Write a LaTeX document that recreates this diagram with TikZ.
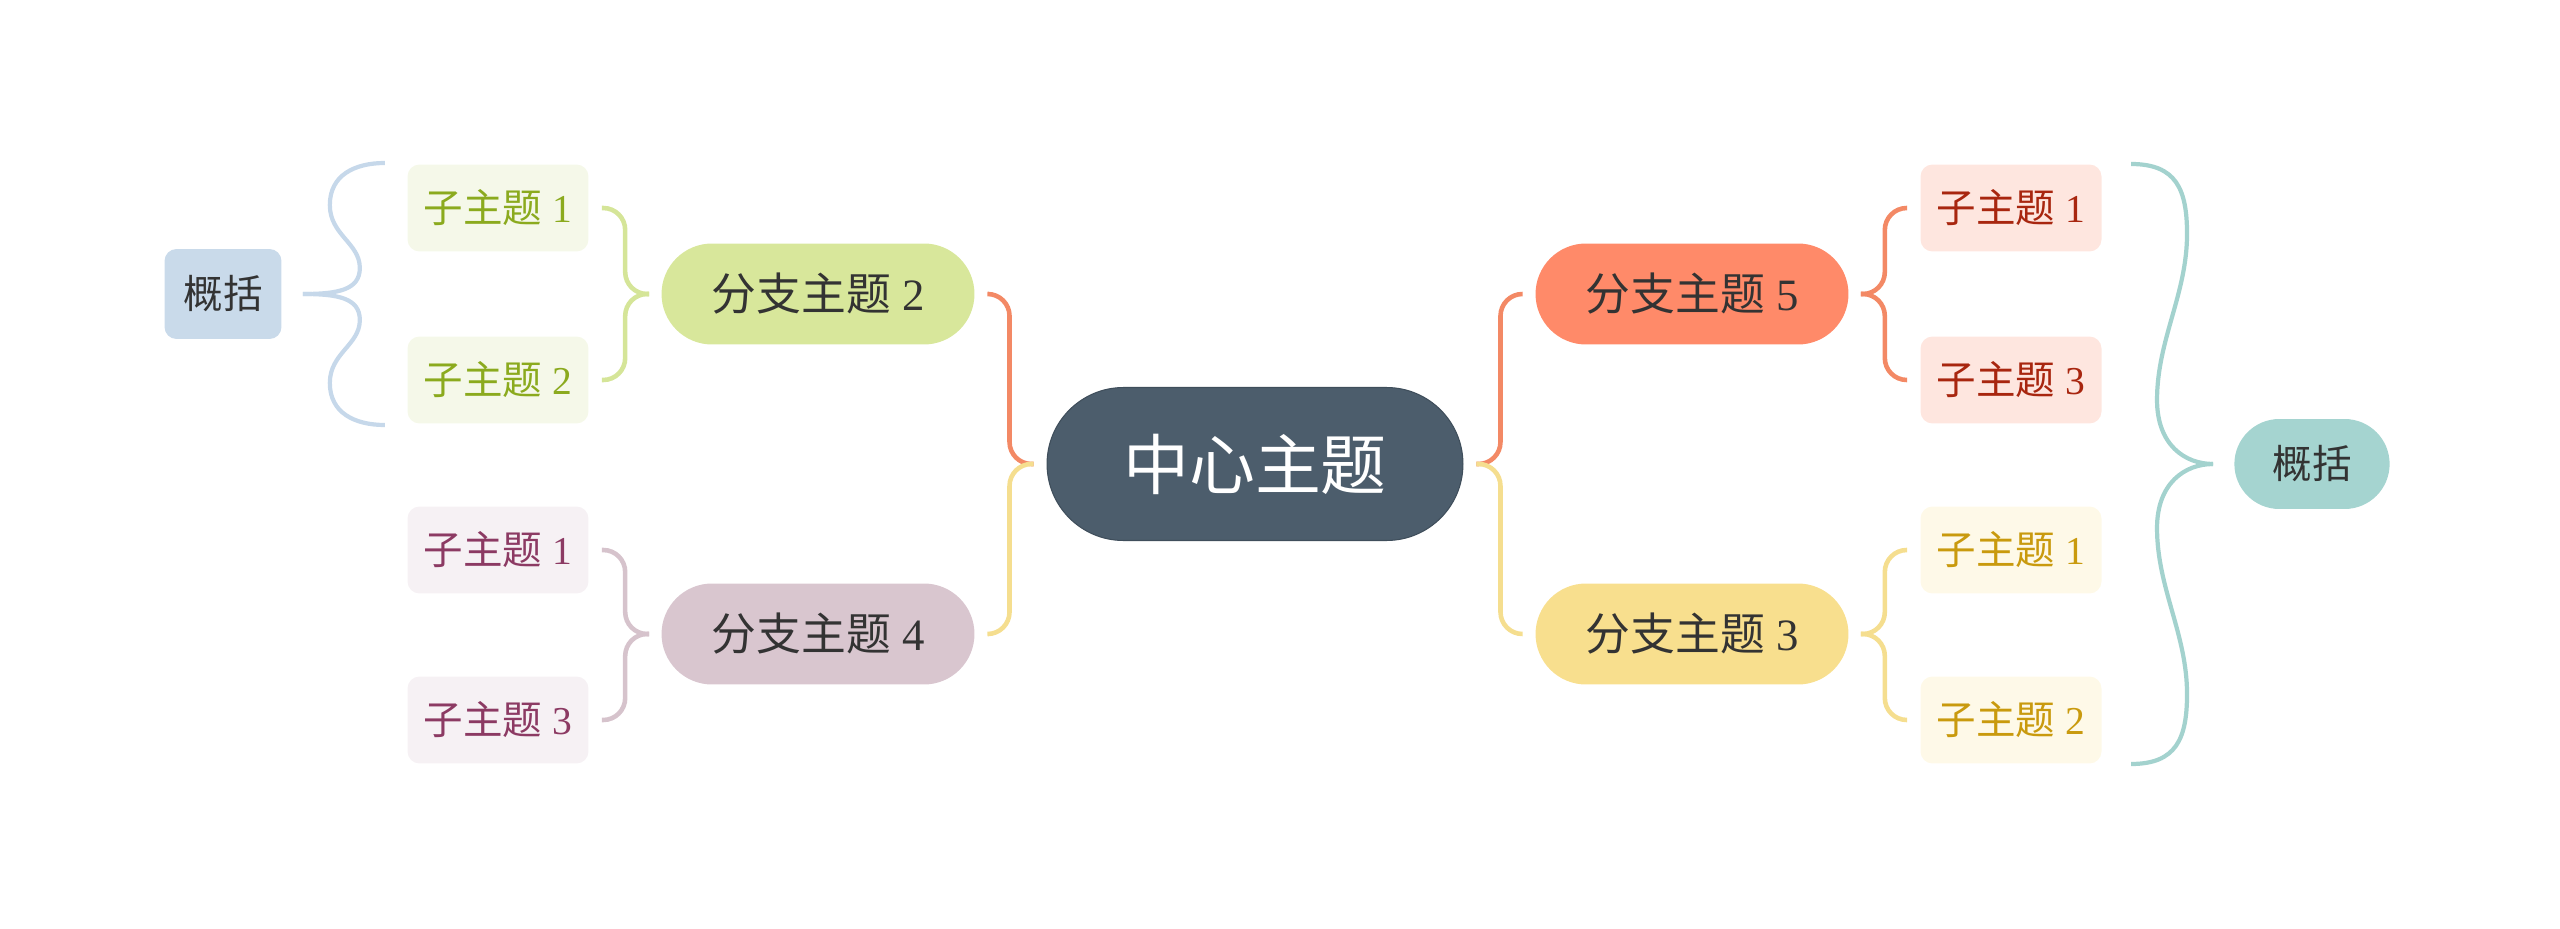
\documentclass[tikz,border=0pt]{standalone}
\usepackage{fontspec}
\setmainfont{Liberation Serif}
\newfontfamily\cjk{Noto Sans CJK SC}
\usetikzlibrary{shapes.misc,calc}

\definecolor{hubfill}{HTML}{4C5D6C}
\definecolor{hubline}{HTML}{3F4E5B}
\definecolor{ink}{HTML}{333333}
\definecolor{greenfill}{HTML}{D8E79B}
\definecolor{greenleaf}{HTML}{F5F8E9}
\definecolor{greentext}{HTML}{8BAA1E}
\definecolor{greenln}{HTML}{D5E598}
\definecolor{mauvefill}{HTML}{D9C6CF}
\definecolor{mauveleaf}{HTML}{F6F1F4}
\definecolor{mauvetext}{HTML}{8C3A63}
\definecolor{mauveln}{HTML}{D6C3CC}
\definecolor{coralfill}{HTML}{FF8A69}
\definecolor{coralleaf}{HTML}{FEE6DF}
\definecolor{coraltext}{HTML}{A8260F}
\definecolor{coralln}{HTML}{F38965}
\definecolor{sandfill}{HTML}{F8DF8E}
\definecolor{sandleaf}{HTML}{FEF9E8}
\definecolor{sandtext}{HTML}{C99A0E}
\definecolor{sandln}{HTML}{F5DE8F}
\definecolor{skyfill}{HTML}{C9DAEA}
\definecolor{skyln}{HTML}{C6D8EA}
\definecolor{tealfill}{HTML}{A5D4D0}
\definecolor{tealln}{HTML}{A3D2CE}

\begin{document}
\begin{tikzpicture}[x = 0.02cm, y = -0.02cm,
    hub/.style = {rounded rectangle, fill = hubfill, draw = hubline, line width = 0.6pt,
      minimum width = 8.32cm, minimum height = 3.06cm, inner sep = 0pt,
      text = white, font = \fontsize{37.5}{40}\selectfont},
    branch/.style = {rounded rectangle, minimum width = 6.26cm, minimum height = 2.02cm,
      inner sep = 0pt, text = ink, font = \fontsize{25.5}{28}\selectfont},
    leaf/.style = {rectangle, rounded corners = 0.24cm, minimum width = 3.62cm,
      minimum height = 1.74cm, inner sep = 0pt, font = \fontsize{22.5}{25}\selectfont},
    link/.style = {line width = 2.6pt, rounded corners = 0.44cm},
    curly/.style = {line width = 2.4pt}]
\useasboundingbox (0,0) rectangle (2560,929);
\draw (1255,464) node[hub](c){\cjk 中心主题}
    (818,294) node[branch, fill = greenfill](b2){{\cjk 分支主题} 2}
    (818,634) node[branch, fill = mauvefill](b4){{\cjk 分支主题} 4}
    (1692,294) node[branch, fill = coralfill](b5){{\cjk 分支主题} 5}
    (1692,634) node[branch, fill = sandfill](b3){{\cjk 分支主题} 3};
\draw (498,208) node[leaf, fill = greenleaf, text = greentext](s21){{\cjk 子主题} 1}
    (498,380) node[leaf, fill = greenleaf, text = greentext](s22){{\cjk 子主题} 2}
    (498,550) node[leaf, fill = mauveleaf, text = mauvetext](s41){{\cjk 子主题} 1}
    (498,720) node[leaf, fill = mauveleaf, text = mauvetext](s43){{\cjk 子主题} 3}
    (2011,208) node[leaf, fill = coralleaf, text = coraltext](s51){{\cjk 子主题} 1}
    (2011,380) node[leaf, fill = coralleaf, text = coraltext](s53){{\cjk 子主题} 3}
    (2011,550) node[leaf, fill = sandleaf, text = sandtext](s31){{\cjk 子主题} 1}
    (2011,720) node[leaf, fill = sandleaf, text = sandtext](s32){{\cjk 子主题} 2};
\draw (223,294) node[rectangle, rounded corners = 0.24cm, fill = skyfill, minimum width = 2.34cm,
      minimum height = 1.8cm, text = ink, font = \fontsize{22.5}{25}\selectfont](sl){\cjk 概括}
    (2312,464) node[rounded rectangle, fill = tealfill, minimum width = 3.34cm,
      minimum height = 1.8cm, text = ink, font = \fontsize{22.5}{25}\selectfont](sr){\cjk 概括};
% center to branches
\draw [link, coralln] ([xshift = -0.26cm]c.west) -- ([xshift = -0.74cm]c.west) |- ([xshift = 0.28cm]b2.east);
\draw [link, sandln] ([xshift = -0.26cm]c.west) -- ([xshift = -0.74cm]c.west) |- ([xshift = 0.28cm]b4.east);
\draw [link, coralln] ([xshift = 0.26cm]c.east) -- ([xshift = 0.74cm]c.east) |- ([xshift = -0.26cm]b5.west);
\draw [link, sandln] ([xshift = 0.26cm]c.east) -- ([xshift = 0.74cm]c.east) |- ([xshift = -0.26cm]b3.west);
% branches to sub topics
\draw [link, greenln] ([xshift = -0.24cm]b2.west) -- ([xshift = -0.72cm]b2.west) |- ([xshift = 0.26cm]s21.east);
\draw [link, greenln] ([xshift = -0.24cm]b2.west) -- ([xshift = -0.72cm]b2.west) |- ([xshift = 0.26cm]s22.east);
\draw [link, mauveln] ([xshift = -0.24cm]b4.west) -- ([xshift = -0.72cm]b4.west) |- ([xshift = 0.26cm]s41.east);
\draw [link, mauveln] ([xshift = -0.24cm]b4.west) -- ([xshift = -0.72cm]b4.west) |- ([xshift = 0.26cm]s43.east);
\draw [link, coralln] ([xshift = 0.24cm]b5.east) -- ([xshift = 0.72cm]b5.east) |- ([xshift = -0.26cm]s51.west);
\draw [link, coralln] ([xshift = 0.24cm]b5.east) -- ([xshift = 0.72cm]b5.east) |- ([xshift = -0.26cm]s53.west);
\draw [link, sandln] ([xshift = 0.24cm]b3.east) -- ([xshift = 0.72cm]b3.east) |- ([xshift = -0.26cm]s31.west);
\draw [link, sandln] ([xshift = 0.24cm]b3.east) -- ([xshift = 0.72cm]b3.east) |- ([xshift = -0.26cm]s32.west);
% summary braces
\draw [curly, skyln] ([xshift = 0.42cm]sl.east) .. controls +(35,0) and +(0,22) .. ++(57,-26)
    .. controls +(0,-25) and +(0,30) .. ++(-30,-63) .. controls +(0,-30) and +(-30,0) .. ++(55,-42);
\draw [curly, skyln] ([xshift = 0.42cm]sl.east) .. controls +(35,0) and +(0,-22) .. ++(57,26)
    .. controls +(0,25) and +(0,-30) .. ++(-30,63) .. controls +(0,30) and +(-30,0) .. ++(55,42);
\draw [curly, tealln] ([xshift = -0.42cm]sr.west) .. controls +(-28,0) and +(0,45) .. ++(-56,-64)
    .. controls +(0,-60) and +(0,60) .. ++(30,-166) .. controls +(0,-45) and +(45,0) .. ++(-56,-70);
\draw [curly, tealln] ([xshift = -0.42cm]sr.west) .. controls +(-28,0) and +(0,-45) .. ++(-56,64)
    .. controls +(0,60) and +(0,-60) .. ++(30,166) .. controls +(0,45) and +(45,0) .. ++(-56,70);
\end{tikzpicture}
\end{document}
